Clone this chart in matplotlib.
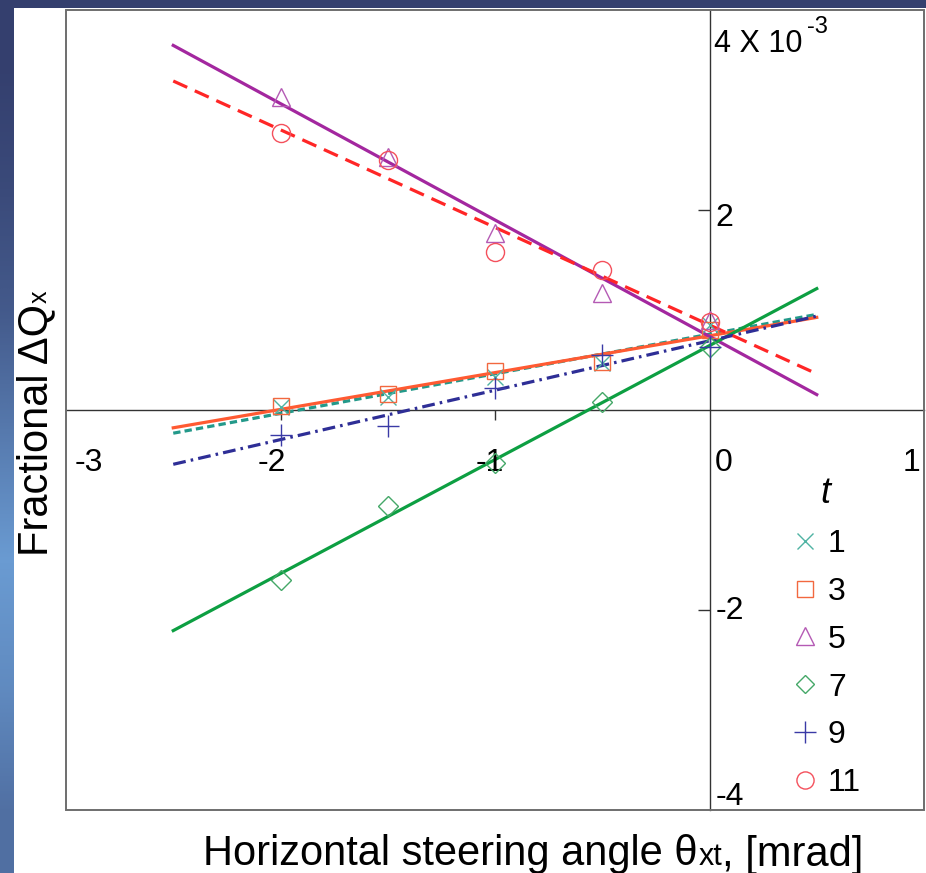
import numpy as np
import matplotlib
matplotlib.use("Agg")
import matplotlib.pyplot as plt
from matplotlib.lines import Line2D
from matplotlib.patches import Rectangle

plt.rcParams['font.family'] = ['Liberation Sans', 'DejaVu Sans']

# steering angle [mrad] and fractional tune shift (units of 1e-3) for each t
angle = [-2.0, -1.5, -1.0, -0.5, 0.0]
dq_t1 = [0.03, 0.13, 0.33, 0.47, 0.85]
dq_t3 = [0.04, 0.16, 0.39, 0.48, 0.80]
dq_t5 = [3.13, 2.53, 1.77, 1.17, 0.90]
dq_t7 = [-1.70, -0.96, -0.53, 0.08, 0.63]
dq_t9 = [-0.25, -0.16, 0.22, 0.55, 0.63]
dq_t11 = [2.77, 2.50, 1.58, 1.40, 0.88]
fit_span = [-2.5, 0.5]

t_labels = ['1', '3', '5', '7', '9', '11']
x_tick_vals = [-3, -2, -1, 0, 1]
y_tick_vals = [-4, -2, 2]

series = [
    # data, marker, marker colour, line colour, dashes
    (dq_t1, 'x', '#4fb3a3', '#23998a', (2.3, 1.3)),
    (dq_t3, 's', '#f2683f', '#ff5a32', None),
    (dq_t5, '^', '#b45ab4', '#a3279f', None),
    (dq_t7, 'D', '#45a868', '#0d9f42', None),
    (dq_t9, '+', '#3a3aa6', '#2e2e96', (4.0, 1.6, 0.8, 1.6)),
    (dq_t11, 'o', '#f4505c', '#ff2626', (4.8, 2.6)),
]
msizes = {'x': 12, 's': 12, '^': 13, 'D': 10, '+': 16, 'o': 13}

fig = plt.figure(figsize=(9.26, 8.73), dpi=100)
fig.patch.set_facecolor('white')

# slide background bits (blue strip at left, band on top)
bg = fig.add_axes([0, 0, 14 / 926, 1])
grad = np.array([[0.0], [0.1], [0.25], [0.55], [0.85], [0.7], [0.45]])
cmap = matplotlib.colors.LinearSegmentedColormap.from_list('slide', ['#343f6e', '#6a9bd2'])
bg.imshow(grad, aspect='auto', cmap=cmap, extent=[0, 1, 0, 1], origin='upper',
          interpolation='bilinear')
bg.axis('off')
fig.patches.append(Rectangle((0, 1 - 8 / 873), 1, 8 / 873, transform=fig.transFigure,
                             facecolor='#343f6e', edgecolor='none'))

ax = fig.add_axes([66 / 926, 63 / 873, 858 / 926, 800 / 873])
ax.set_xlim(-3, 1)
ax.set_ylim(-4, 4)

for data, mk, mcol, lcol, dash in series:
    k, b = np.polyfit(angle, data, 1)
    xs = np.array(fit_span)
    ln, = ax.plot(xs, k * xs + b, color=lcol, lw=2.3, zorder=3)
    if dash:
        ln.set_dashes(dash)
    ax.plot(angle, data, linestyle='none', marker=mk, ms=msizes[mk],
            mfc='none', mec=mcol, mew=1.0, zorder=4)

# axes through the origin, box around
for side in ['top', 'right']:
    ax.spines[side].set_visible(False)
ax.spines['bottom'].set_position(('data', 0))
ax.spines['left'].set_position(('data', 0))
for side in ['bottom', 'left']:
    ax.spines[side].set_color('#333333')
    ax.spines[side].set_linewidth(1.0)
ax.add_patch(Rectangle((0, 0), 1, 1, transform=ax.transAxes, fill=False,
                       edgecolor='#6e6e6e', lw=1.4, clip_on=False, zorder=5))
ax.set_xticks([-2, -1])
ax.set_yticks([-2, 2])
ax.tick_params(axis='x', direction='out', length=7, width=1, color='#333333', labelbottom=False)
ax.tick_params(axis='y', direction='out', length=8.5, width=1, color='#333333', labelleft=False)

# tick labels
x_lab_pos = [-2.895, -2.040, -1.023, 0.068, 0.940]
for v, xp in zip(x_tick_vals, x_lab_pos):
    ax.text(xp, -0.53, str(v), ha='center', va='center', fontsize=23)
y_lab_pos = [-3.87, -2.01, 1.92]
for v, yp in zip(y_tick_vals, y_lab_pos):
    ax.text(0.028, yp, str(v), ha='left', va='center', fontsize=23)
ax.text(0.023, 3.66, '4 X 10', ha='left', va='center', fontsize=22)
ax.text(0.455, 3.94, '-3', ha='left', va='top', fontsize=17)

# axis labels
xl = fig.text(203 / 926, 8 / 873, 'Horizontal steering angle θ', fontsize=30,
              ha='left', va='baseline')
xl2 = ax.annotate('xt', xy=(1, 0), xycoords=xl, xytext=(0.5, 0.212 * 30),
                  textcoords='offset points', ha='left', va='baseline', fontsize=22)
ax.annotate(', [mrad]', xy=(1, 0), xycoords=xl2, xytext=(0, 0.212 * 22),
            textcoords='offset points', ha='left', va='baseline', fontsize=30)

yl = fig.text(47 / 926, (873 - 556) / 873, 'Fractional ΔQ', fontsize=30, rotation=90,
              rotation_mode='anchor', ha='left', va='baseline')
ax.annotate('x', xy=(1, 1), xycoords=yl, xytext=(-0.212 * 30, 0.5),
            textcoords='offset points', rotation=90, rotation_mode='anchor',
            ha='left', va='baseline', fontsize=18)

# legend (markers only)
handles = [Line2D([], [], linestyle='none', marker=mk, ms=msizes[mk] * 0.95,
                  mfc='none', mec=mcol, mew=1.0) for _, mk, mcol, _, _ in series]
leg = ax.legend(handles, t_labels, title='t', loc='upper left',
                bbox_to_anchor=(789 / 926, (873 - 476) / 873), bbox_transform=fig.transFigure,
                frameon=False, fontsize=23, handlelength=1.0, handletextpad=0.22,
                labelspacing=0.56, borderpad=0, borderaxespad=0,
                title_fontproperties={'style': 'italic', 'size': 26})

fig.savefig('out.png', dpi=100)
